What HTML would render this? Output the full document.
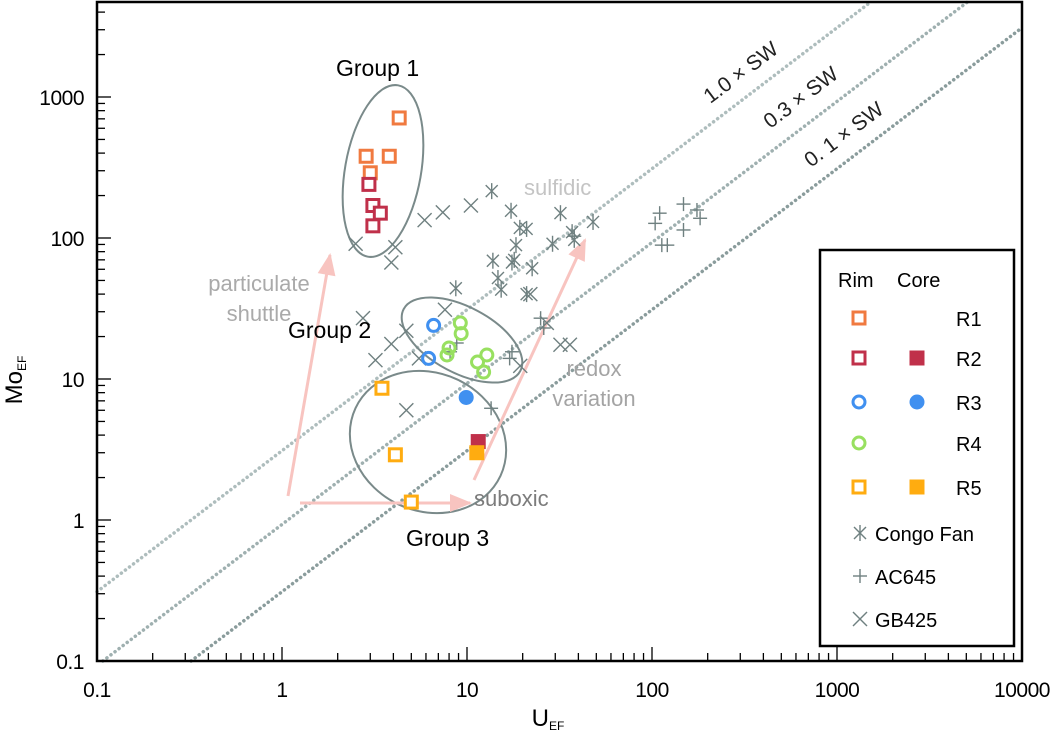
<!DOCTYPE html>
<html><head><meta charset="utf-8">
<style>
html,body{margin:0;padding:0;background:#fff;width:1062px;height:737px;overflow:hidden;}
svg{display:block;font-family:"Liberation Sans",Arial,sans-serif;overflow:hidden;}
</style></head>
<body>
<svg id="chart" width="1062" height="737" viewBox="0 0 1062 737">
</svg>
<script>
// ---- data ----
const xTicks = [0.1, 1, 10, 100, 1000, 10000];
const xTickLabels = ["0.1", "1", "10", "100", "1000", "10000"];
const yTicks = [0.1, 1, 10, 100, 1000];
const yTickLabels = ["0.1", "1", "10", "100", "1000"];
const swRatios = [3.1, 0.93, 0.31];
const swLabels = ["1.0 × SW", "0.3 × SW", "0. 1 × SW"];

const r1RimU = [4.3, 2.85, 3.8, 3.0];
const r1RimMo = [710, 380, 380, 290];
const r2RimU = [2.95, 3.1, 3.4, 3.1];
const r2RimMo = [240, 170, 150, 122];
const r2CoreU = [11.5];
const r2CoreMo = [3.6];
const r3RimU = [6.6, 6.2];
const r3RimMo = [24, 14];
const r3CoreU = [9.9];
const r3CoreMo = [7.4];
const r4RimU = [9.2, 9.3, 8.0, 7.8, 12.8, 11.4, 12.3];
const r4RimMo = [25, 21, 16.6, 14.8, 14.8, 13.2, 11.2];
const r5RimU = [3.47, 4.1, 5.0];
const r5RimMo = [8.6, 2.9, 1.34];
const r5CoreU = [11.3];
const r5CoreMo = [3.0];

const congoU = [13.6, 17.3, 32, 19.3, 21, 18.4, 13.8, 17.5, 18, 22.5, 14.7, 15.3, 21, 8.7, 29, 37, 38, 48];
const congoMo = [215, 156, 150, 118, 116, 89, 69, 67, 70, 61, 52, 43, 40, 44, 91, 110, 97, 130];
const ac645U = [148, 110, 104, 113, 121, 182, 148, 175, 13.5, 26, 8.8, 8.1, 17.5, 25, 38, 17];
const ac645Mo = [174, 150, 127, 89, 89, 138, 114, 158, 6.2, 23, 18, 15.6, 15.6, 27, 103, 14];
const gb425U = [2.5, 4.1, 3.9, 5.9, 7.4, 10.5, 2.74, 3.2, 3.9, 4.7, 4.7, 36, 32, 19.4, 22, 27, 7.6, 5.5];
const gb425Mo = [91, 86, 67, 134, 152, 170, 27, 13.6, 17.7, 22, 6.0, 17.5, 17.5, 12.4, 40, 25, 31, 14];

// ---- scales ----
const X0 = 97, X1 = 1022, Y0 = 661, Y1 = 2;
const lx0 = -1, lx1 = 4, ly0 = -1;
const uMin = 0.1, uMax = 10000, moMin = 0.1, moMax = Math.pow(10, ly0 + (Y0 - Y1) / 141);
const sx = v => X0 + (Math.log10(v) - lx0) / (lx1 - lx0) * (X1 - X0);
const sY = v => Y0 - (Math.log10(v) - ly0) * 141;

const svg = document.getElementById('chart');
const NS = 'http://www.w3.org/2000/svg';
function mk(tag, attrs, parent) {
  const e = document.createElementNS(NS, tag);
  for (const k in attrs) e.setAttribute(k, attrs[k]);
  (parent || svg).appendChild(e);
  return e;
}

// SW lines (clamped to plot area)
const swG = mk('g', {});


const swColors = ['#aebdbd', '#9fb0b0', '#8a9c9c'];
swRatios.forEach((r, i) => {
  const ua = Math.max(uMin, moMin / r), ub = Math.min(uMax, moMax / r);
  const l = mk('line', {x1: sx(ua), y1: sY(ua * r), x2: sx(ub), y2: sY(ub * r),
    stroke: swColors[i], 'stroke-width': 3.5, 'stroke-dasharray': '0.1 5', 'stroke-linecap': 'round'}, swG);
  
  
});
const swLabelPos = [[745, 78], [805, 103], [848, 140]];
swLabels.forEach((t, i) => {
  const tx = mk('text', {x: swLabelPos[i][0], y: swLabelPos[i][1], 'font-size': 21, fill: '#222', 'text-anchor': 'middle',
    transform: `rotate(-37 ${swLabelPos[i][0]} ${swLabelPos[i][1]})`});
  tx.textContent = t;
  
  
});

// ellipses
const ellG = mk('g', {fill: 'none', stroke: '#7a8a8a', 'stroke-width': 2});


[[383, 171, 38, 87, 10], [462, 340, 66, 33, 28], [428, 442, 80, 69, 25]].forEach((e, i) => {
  const el = mk('ellipse', {cx: e[0], cy: e[1], rx: e[2], ry: e[3], transform: `rotate(${e[4]} ${e[0]} ${e[1]})`}, ellG);
  
  
});

// arrows
const arG = mk('g', {stroke: '#f8c4c0', 'stroke-width': 3, fill: '#f8c4c0'});


[[288, 496, 330, 255], [300, 503, 470, 503], [474, 480, 585, 240]].forEach((a, i) => {
  const ln = mk('line', {x1: a[0], y1: a[1], x2: a[2], y2: a[3]}, arG);
  
  
  const ang = Math.atan2(a[3] - a[1], a[2] - a[0]);
  const L = 20, W = 9;
  const bx = a[2] - L * Math.cos(ang), by = a[3] - L * Math.sin(ang);
  const p = mk('polygon', {points: `${a[2] + 2 * Math.cos(ang)},${a[3] + 2 * Math.sin(ang)} ${bx - W * Math.sin(ang)},${by + W * Math.cos(ang)} ${bx + W * Math.sin(ang)},${by - W * Math.cos(ang)}`, stroke: 'none'}, arG);
  
  
});

// markers
const mG = mk('g', {});


function star(x, y, c, g) {
  [[-6, -6, 6, 6], [-6, 6, 6, -6], [0, -8, 0, 8]].forEach(d => mk('line', {x1: x + d[0], y1: y + d[1], x2: x + d[2], y2: y + d[3], stroke: c, 'stroke-width': 1.4}, g));
}
function plus(x, y, c, g) {
  [[-7, 0, 7, 0], [0, -7, 0, 7]].forEach(d => mk('line', {x1: x + d[0], y1: y + d[1], x2: x + d[2], y2: y + d[3], stroke: c, 'stroke-width': 1.4}, g));
}
function cross(x, y, c, g) {
  [[-7, -7, 7, 7], [-7, 7, 7, -7]].forEach(d => mk('line', {x1: x + d[0], y1: y + d[1], x2: x + d[2], y2: y + d[3], stroke: c, 'stroke-width': 1.4}, g));
}
function sqO(x, y, c, g) { mk('rect', {x: x - 6, y: y - 6, width: 12, height: 12, fill: '#fff', stroke: c, 'stroke-width': 3}, g); }
function sqF(x, y, c, g) { mk('rect', {x: x - 7.5, y: y - 7.5, width: 15, height: 15, fill: c}, g); }
function ciO(x, y, c, g) { mk('circle', {cx: x, cy: y, r: 6, fill: 'none', stroke: c, 'stroke-width': 3}, g); }
function ciF(x, y, c, g) { mk('circle', {cx: x, cy: y, r: 7.5, fill: c}, g); }

function series(name, U, M, fn, c) {
  const g = mk('g', {}, mG);
  
  
  U.forEach((u, i) => fn(sx(u), sY(M[i]), c, g));
}
const gray = '#6f8080';
series('gb425-points', gb425U, gb425Mo, cross, gray);
series('congo-fan-points', congoU, congoMo, star, gray);
series('ac645-points', ac645U, ac645Mo, plus, gray);
series('r1-rim-points', r1RimU, r1RimMo, sqO, '#f07a40');
series('r2-rim-points', r2RimU, r2RimMo, sqO, '#c0304a');
series('r3-rim-points', r3RimU, r3RimMo, ciO, '#4090f0');
series('r4-rim-points', r4RimU, r4RimMo, ciO, '#98e060');
series('r5-rim-points', r5RimU, r5RimMo, sqO, '#ffac10');
series('r3-core-points', r3CoreU, r3CoreMo, ciF, '#4090f0');
series('r2-core-points', r2CoreU, r2CoreMo, sqF, '#c0304a');
series('r5-core-points', r5CoreU, r5CoreMo, sqF, '#ffac10');

// annotations
function txt(x, y, t, size, fill, name, anchor) {
  const e = mk('text', {x: x, y: y, 'font-size': size, fill: fill, 'text-anchor': anchor || 'start'});
  e.textContent = t;
  
  
  return e;
}
txt(336, 76, 'Group 1', 23, '#000', 'group-1-label');
txt(288, 338, 'Group 2', 23, '#000', 'group-2-label');
txt(406, 546, 'Group 3', 23, '#000', 'group-3-label');
txt(524, 195, 'sulfidic', 22, '#c4c4c4', 'sulfidic-label');
txt(259, 291, 'particulate', 22, '#aaaaaa', 'particulate-label', 'middle');
txt(259, 321, 'shuttle', 22, '#aaaaaa', 'shuttle-label', 'middle');
txt(594, 376, 'redox', 22, '#a4a4a4', 'redox-label', 'middle');
txt(594, 406, 'variation', 22, '#a4a4a4', 'variation-label', 'middle');
txt(474, 506, 'suboxic', 22, '#7c7c7c', 'suboxic-label');

// frame
const fr = mk('rect', {x: X0, y: Y1, width: X1 - X0, height: Y0 - Y1, fill: 'none', stroke: '#000', 'stroke-width': 2.5});



// ticks
const tG = mk('g', {stroke: '#000', 'stroke-width': 1.3});


for (let d = -1; d < 4; d++) for (let k = 1; k <= 9; k++) {
  const v = k * Math.pow(10, d), x = sx(v);
  mk('line', {x1: x, y1: Y0, x2: x, y2: Y0 - (k === 1 ? 14 : 8)}, tG);
}
for (let d = -1; d < 4; d++) for (let k = 1; k <= 9; k++) {
  const v = k * Math.pow(10, d), y = sY(v);
  if (y < Y1) continue;
  mk('line', {x1: X0, y1: y, x2: X0 + (k === 1 ? 14 : 8), y2: y}, tG);
}
xTicks.forEach((v, i) => { const t = txt(sx(v), 697, xTickLabels[i], 21, '#000', 'x-tick-label-' + i, 'middle'); t.setAttribute('letter-spacing', '-0.5'); });
yTicks.forEach((v, i) => { const t = txt(84, sY(v) + 8, yTickLabels[i], 21, '#000', 'y-tick-label-' + i, 'end'); t.setAttribute('letter-spacing', '-0.5'); });

// axis titles
const xt = mk('text', {x: 548, y: 726, 'font-size': 24, 'text-anchor': 'middle'});


xt.innerHTML = 'U<tspan font-size="12" dy="4">EF</tspan>';
const yt = mk('text', {x: 22, y: 380, 'font-size': 24, 'text-anchor': 'middle', transform: 'rotate(-90 22 380)'});


yt.innerHTML = 'Mo<tspan font-size="12" dy="4">EF</tspan>';

// legend
const lg = mk('g', {});


mk('rect', {x: 820, y: 250, width: 194, height: 396, fill: '#fff', stroke: '#000', 'stroke-width': 2.5}, lg);
txt(838, 287, 'Rim', 20, '#000', 'legend-rim-header');
txt(897, 287, 'Core', 20, '#000', 'legend-core-header');
const legRows = [
  ['R1', sqO, null, '#f07a40', 318],
  ['R2', sqO, sqF, '#c0304a', 358],
  ['R3', ciO, ciF, '#4090f0', 402],
  ['R4', ciO, null, '#98e060', 443],
  ['R5', sqO, sqF, '#ffac10', 487],
];
legRows.forEach((r) => {
  const g = mk('g', {}, lg);
  
  
  r[1](859, r[4], r[3], g);
  if (r[2]) r[2](917, r[4], r[3], g);
  txt(956, r[4] + 8, r[0], 20, '#000', 'legend-label-' + r[0].toLowerCase());
});
[['Congo Fan', star, 533], ['AC645', plus, 576], ['GB425', cross, 619]].forEach(r => {
  const g = mk('g', {}, lg);
  
  
  r[1](860, r[2], gray, g);
  txt(875, r[2] + 8, r[0], 20, '#000', 'legend-label-' + r[0].toLowerCase().replace(' ', '-'));
});
</script>
</body></html>
